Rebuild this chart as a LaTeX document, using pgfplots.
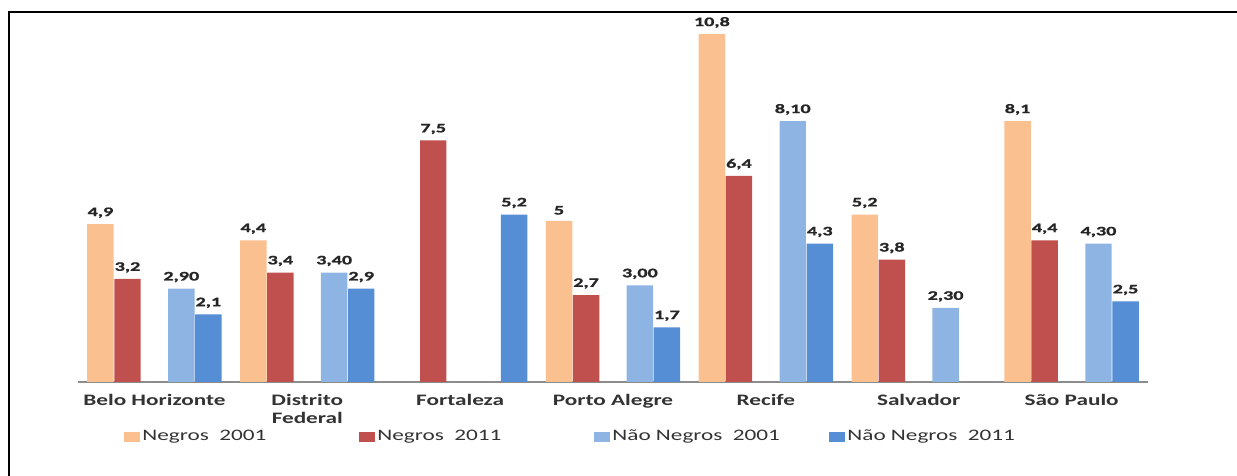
\documentclass[border=0pt]{standalone}
\usepackage{pgfplots}
\pgfplotsset{compat=1.18}
\usepackage{pgfplotstable}
\usepackage{fontspec}
\setmainfont{Carlito}
\newfontfamily\catfont[FakeStretch=1.45]{Carlito}
\newfontfamily\valfont[FakeStretch=1.55, BoldFeatures={FakeBold=1.2}]{Carlito}
\definecolor{cPeach}{HTML}{FAC090}
\definecolor{cRed}{HTML}{C0504D}
\definecolor{cLBlue}{HTML}{8EB4E3}
\definecolor{cBlue}{HTML}{558ED5}

\pgfplotstableread{
x y lab
0 4.9 4,9
1 4.4 4,4
3 5 5
4 10.8 10,8
5 5.2 5,2
6 8.1 8,1
}\negA
\pgfplotstableread{
x y lab
0 3.2 3,2
1 3.4 3,4
2 7.5 7,5
3 2.7 2,7
4 6.4 6,4
5 3.8 3,8
6 4.4 4,4
}\negB
\pgfplotstableread{
x y lab
0 2.9 2,90
1 3.4 3,40
3 3.0 3,00
4 8.1 8,10
5 2.3 2,30
6 4.3 4,30
}\naoA
\pgfplotstableread{
x y lab
0 2.1 2,1
1 2.9 2,9
2 5.2 5,2
3 1.7 1,7
4 4.3 4,3
6 2.5 2,5
}\naoB

\begin{document}
\begin{tikzpicture}
\path[use as bounding box] (0,0) rectangle (618.5pt,238pt);
\draw[line width=1.4pt] (4.5pt,0) -- (4.5pt,232pt) -- (618.5pt,232pt);
\begin{axis}[
  at={(39pt,47pt)}, anchor=south west,
  scale only axis, width=535pt, height=177.1pt,
  xmin=-0.5, xmax=6.5, ymin=0, ymax=11,
  clip=false,
  axis x line=bottom, axis y line=none,
  x axis line style={-, draw=black!45, line width=0.7pt},
  xtick={0,...,6}, major tick length=0pt,
  xticklabels={Belo Horizonte, {Distrito\\Federal}, Fortaleza, Porto Alegre, Recife, Salvador, São Paulo},
  xticklabel style={font=\catfont\bfseries\fontsize{8}{9}\selectfont, align=center, anchor=north, inner sep=0pt, yshift=-6pt, text=black!80},
  ybar, bar width=0.173,
  point meta=explicit symbolic,
  nodes near coords={\pgfplotspointmeta},
  every node near coord/.append style={font=\valfont\bfseries\fontsize{6.5}{7}\selectfont, inner sep=0pt, yshift=3pt, text=black!85},
  legend columns=4,
  legend image code/.code={\fill[#1] (0pt,-2.5pt) rectangle (8pt,2.5pt);},
  legend style={at={(0,0)}, anchor=west, xshift=23pt, yshift=-27.5pt, draw=none, fill=none, inner sep=0pt,
    nodes={inner sep=1pt}, column sep=0pt,
    font=\catfont\fontsize{8}{9}\selectfont, text=black!80},
  legend cell align=left,
]
\addplot[fill=cPeach, draw=none, bar shift=-0.353] table[x=x, y=y, meta=lab]{\negA};
\addlegendentry{\makebox[107.5pt][l]{Negros\ \ 2001}}
\addplot[fill=cRed, draw=none, bar shift=-0.176] table[x=x, y=y, meta=lab]{\negB};
\addlegendentry{\makebox[107.5pt][l]{Negros\ \ 2011}}
\addplot[fill=cLBlue, draw=none, bar shift=0.176] table[x=x, y=y, meta=lab]{\naoA};
\addlegendentry{\makebox[107.5pt][l]{Não Negros\ \ 2001}}
\addplot[fill=cBlue, draw=none, bar shift=0.353] table[x=x, y=y, meta=lab]{\naoB};
\addlegendentry{\makebox[107.5pt][l]{Não Negros\ \ 2011}}
\end{axis}
\end{tikzpicture}
\end{document}
